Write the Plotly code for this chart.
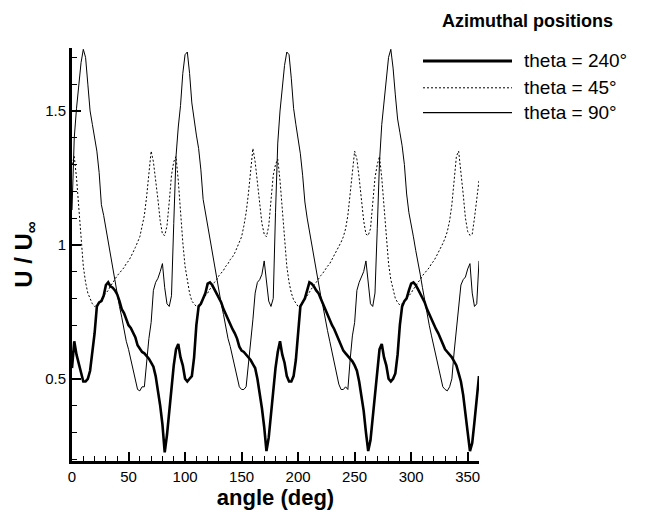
import plotly.graph_objects as go

# angle grid (deg)
angle = list(range(0, 361, 2))

# theta = 240 deg (thick solid)
u_240 = [
    0.54, 0.64, 0.59, 0.56, 0.53, 0.49, 0.49, 0.50, 0.53, 0.60,
    0.67, 0.77, 0.785, 0.79, 0.81, 0.85, 0.86, 0.845, 0.84, 0.83,
    0.815, 0.79, 0.76, 0.745, 0.72, 0.70, 0.69, 0.675, 0.655, 0.625,
    0.61, 0.60, 0.595, 0.585, 0.575, 0.56, 0.545, 0.51, 0.46, 0.40,
    0.33, 0.225, 0.29, 0.38, 0.46,
    0.55, 0.61, 0.63, 0.58, 0.55, 0.50, 0.49, 0.50, 0.51, 0.58,
    0.70, 0.77, 0.78, 0.80, 0.82, 0.855, 0.86, 0.85, 0.835, 0.82,
    0.805, 0.785, 0.76, 0.74, 0.72, 0.705, 0.685, 0.67, 0.65, 0.62,
    0.605, 0.60, 0.59, 0.58, 0.57, 0.555, 0.54, 0.50, 0.45, 0.39,
    0.32, 0.23, 0.28, 0.37, 0.46,
    0.54, 0.60, 0.64, 0.59, 0.56, 0.51, 0.49, 0.49, 0.51, 0.57,
    0.68, 0.77, 0.785, 0.80, 0.83, 0.86, 0.855, 0.845, 0.83, 0.82,
    0.80, 0.78, 0.755, 0.735, 0.72, 0.70, 0.685, 0.665, 0.645, 0.62,
    0.605, 0.595, 0.585, 0.575, 0.565, 0.55, 0.53, 0.49, 0.44, 0.38,
    0.30, 0.23, 0.27, 0.36, 0.45,
    0.54, 0.61, 0.63, 0.58, 0.55, 0.50, 0.49, 0.50, 0.52, 0.59,
    0.70, 0.77, 0.79, 0.80, 0.83, 0.855, 0.86, 0.85, 0.835, 0.82,
    0.80, 0.785, 0.76, 0.74, 0.72, 0.705, 0.685, 0.67, 0.65, 0.625,
    0.61, 0.60, 0.59, 0.58, 0.565, 0.55, 0.52, 0.49, 0.44, 0.38,
    0.30, 0.23, 0.26, 0.34, 0.43,
    0.51,
]

# theta = 45 deg (dotted)
u_45 = [
    1.30, 1.33, 1.25, 1.13, 1.02, 0.92, 0.86, 0.82, 0.80, 0.78,
    0.77, 0.775, 0.785, 0.795, 0.81, 0.82, 0.83, 0.845, 0.86, 0.875,
    0.885, 0.895, 0.905, 0.915, 0.93, 0.94, 0.955, 0.97, 0.99, 1.01,
    1.03, 1.07, 1.11, 1.18, 1.27, 1.35, 1.31, 1.25, 1.17, 1.09,
    1.04, 1.035, 1.07, 1.16, 1.26,
    1.31, 1.33, 1.24, 1.12, 1.01, 0.92, 0.86, 0.82, 0.79, 0.78,
    0.77, 0.775, 0.785, 0.80, 0.81, 0.82, 0.835, 0.845, 0.86, 0.87,
    0.885, 0.895, 0.905, 0.92, 0.93, 0.945, 0.955, 0.97, 0.99, 1.01,
    1.03, 1.07, 1.12, 1.19, 1.28, 1.36, 1.31, 1.24, 1.16, 1.08,
    1.04, 1.03, 1.07, 1.16, 1.26,
    1.30, 1.32, 1.24, 1.13, 1.02, 0.92, 0.86, 0.82, 0.795, 0.78,
    0.77, 0.775, 0.79, 0.80, 0.81, 0.825, 0.835, 0.85, 0.86, 0.875,
    0.885, 0.895, 0.91, 0.92, 0.93, 0.945, 0.96, 0.975, 0.99, 1.01,
    1.03, 1.06, 1.11, 1.18, 1.27, 1.35, 1.32, 1.25, 1.17, 1.09,
    1.04, 1.035, 1.06, 1.15, 1.25,
    1.30, 1.33, 1.25, 1.14, 1.03, 0.93, 0.87, 0.83, 0.80, 0.785,
    0.775, 0.78, 0.79, 0.80, 0.81, 0.82, 0.835, 0.845, 0.86, 0.87,
    0.885, 0.895, 0.905, 0.915, 0.93, 0.94, 0.955, 0.97, 0.985, 1.005,
    1.025, 1.05, 1.09, 1.15, 1.24, 1.33, 1.35, 1.28, 1.19, 1.10,
    1.05, 1.035, 1.04, 1.10, 1.18,
    1.24,
]

# theta = 90 deg (thin solid)
u_90 = [
    1.13, 1.40, 1.51, 1.60, 1.68, 1.73, 1.70, 1.60, 1.50, 1.45,
    1.40, 1.35, 1.27, 1.15, 1.11, 1.06, 1.01, 0.96, 0.92, 0.87,
    0.82, 0.77, 0.73, 0.68, 0.64, 0.61, 0.57, 0.53, 0.49, 0.46,
    0.455, 0.47, 0.47, 0.56, 0.65, 0.71, 0.83, 0.86, 0.875, 0.90,
    0.93, 0.84, 0.78, 0.77, 0.81,
    1.08, 1.33, 1.44, 1.52, 1.64, 1.71, 1.72, 1.64, 1.53, 1.46,
    1.41, 1.36, 1.28, 1.17, 1.12, 1.07, 1.02, 0.97, 0.93, 0.88,
    0.83, 0.78, 0.74, 0.69, 0.65, 0.62, 0.58, 0.54, 0.50, 0.47,
    0.46, 0.46, 0.47, 0.55, 0.64, 0.72, 0.82, 0.86, 0.87, 0.89,
    0.94, 0.86, 0.79, 0.77, 0.80,
    1.12, 1.38, 1.50, 1.58, 1.67, 1.72, 1.71, 1.62, 1.51, 1.45,
    1.40, 1.34, 1.26, 1.16, 1.10, 1.05, 1.00, 0.96, 0.91, 0.86,
    0.81, 0.77, 0.72, 0.68, 0.64, 0.60, 0.56, 0.52, 0.48, 0.46,
    0.46, 0.47, 0.46, 0.57, 0.66, 0.71, 0.83, 0.86, 0.88, 0.90,
    0.94, 0.85, 0.78, 0.77, 0.82,
    1.06, 1.31, 1.45, 1.53, 1.63, 1.70, 1.73, 1.66, 1.56, 1.47,
    1.42, 1.37, 1.30, 1.19, 1.12, 1.08, 1.03, 0.98, 0.94, 0.89,
    0.84, 0.79, 0.75, 0.70, 0.66, 0.62, 0.59, 0.55, 0.51, 0.47,
    0.46, 0.455, 0.47, 0.50, 0.60, 0.68, 0.76, 0.85, 0.87, 0.88,
    0.91, 0.93, 0.82, 0.77, 0.78,
    0.94,
]

x_ticks = [0, 50, 100, 150, 200, 250, 300, 350]
y_ticks = [0.5, 1, 1.5]
y_tick_text = ["0.5", "1", "1.5"]
legend_title = "Azimuthal positions"
legend_labels = ["theta = 240°", "theta = 45°", "theta = 90°"]

FONT = "Arial, Liberation Sans, sans-serif"

fig = go.Figure()
fig.add_trace(go.Scatter(x=angle, y=u_90, mode="lines", name=legend_labels[2],
                         line=dict(color="black", width=1)))
fig.add_trace(go.Scatter(x=angle, y=u_45, mode="lines", name=legend_labels[1],
                         line=dict(color="black", width=1, dash="2px,2px")))
fig.add_trace(go.Scatter(x=angle, y=u_240, mode="lines", name=legend_labels[0],
                         line=dict(color="black", width=2.6)))

# plot area in paper coordinates: left 72px, right 479px, top 48px, bottom 463px
def px_x(px):
    return (px - 72) / 407.0

def px_y(py):
    return (463 - py) / 415.0

styles = [dict(width=3, dash="solid"), dict(width=1, dash="2px,2px"), dict(width=1.2, dash="solid")]
rows_y = [61, 88, 113]
for lab, st, ry in zip(legend_labels, styles, rows_y):
    fig.add_shape(type="line", xref="paper", yref="paper",
                  x0=px_x(423), x1=px_x(512), y0=px_y(ry), y1=px_y(ry),
                  line=dict(color="black", width=st["width"], dash=st["dash"]))
    fig.add_annotation(xref="paper", yref="paper", x=px_x(522), y=px_y(ry),
                       xanchor="left", yanchor="middle", showarrow=False,
                       text=lab, font=dict(family=FONT, size=19, color="black"))

fig.add_annotation(xref="paper", yref="paper", x=px_x(527), y=px_y(21),
                   xanchor="center", yanchor="middle", showarrow=False,
                   text="<b>" + legend_title + "</b>",
                   font=dict(family=FONT, size=18, color="black"))

fig.update_layout(
    width=646, height=516,
    margin=dict(l=72, r=167, t=48, b=53),
    plot_bgcolor="white", paper_bgcolor="white",
    showlegend=False,
    font=dict(family=FONT, color="black"),
)
fig.update_xaxes(
    range=[0, 360], showline=True, linewidth=3, linecolor="black",
    ticks="inside", ticklen=9, tickwidth=2, tickcolor="black",
    tickvals=x_ticks, tickfont=dict(size=15, family=FONT),
    minor=dict(ticks="inside", dtick=10, tick0=0, ticklen=5, tickwidth=1, tickcolor="black"),
    showgrid=False, zeroline=False,
    title=dict(text="angle (deg)", font=dict(size=22, family=FONT, weight="bold"), standoff=4),
)
fig.update_yaxes(
    range=[0.193, 1.735], showline=True, linewidth=3, linecolor="black",
    ticks="inside", ticklen=9, tickwidth=2, tickcolor="black",
    tickvals=y_ticks, ticktext=y_tick_text, tickfont=dict(size=15, family=FONT),
    minor=dict(ticks="inside", dtick=0.1, tick0=0, ticklen=5, tickwidth=1, tickcolor="black"),
    showgrid=False, zeroline=False,
    title=dict(text="U / U<sub>∞</sub>", font=dict(size=24, family=FONT, weight="bold"), standoff=6),
)

fig.write_html("out.html")
